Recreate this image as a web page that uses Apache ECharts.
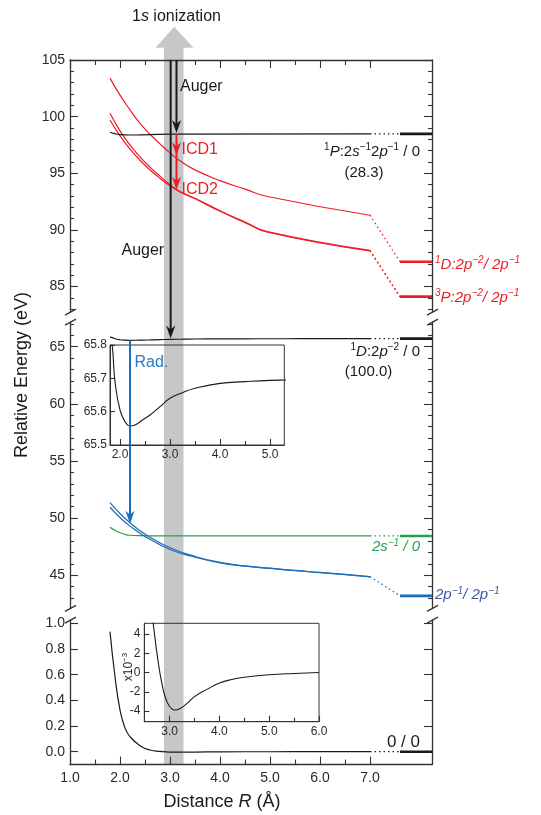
<!DOCTYPE html>
<html><head><meta charset="utf-8">
<script src="https://cdn.jsdelivr.net/npm/echarts@6.0.0/dist/echarts.min.js"></script>
<style>html,body{margin:0;padding:0;background:#fff;}#chart{width:541px;height:815px;}</style>
</head><body><div id="chart"></div>
<script>
// ---------------- data ----------------
const xTickLabels = [1, 2, 3, 4, 5, 6, 7];
const xMinorTicks = [1.5, 2.5, 3.5, 4.5, 5.5, 6.5];
const topYLabels = [85, 90, 95, 100, 105];
const topYMinor = [83,84,86,87,88,89,91,92,93,94,96,97,98,99,101,102,103,104];
const midYLabels = [45, 50, 55, 60, 65];
const midYMinor = [43,44,46,47,48,49,51,52,53,54,56,57,58,59,61,62,63,64,66,67];
const botYLabels = [0, 0.2, 0.4, 0.6, 0.8, 1.0];
const in1XLabels = [2, 3, 4, 5];
const in1XMinor = [2.5, 3.5, 4.5];
const in1YLabels = [65.5, 65.6, 65.7, 65.8];
const in2XLabels = [3, 4, 5, 6];
const in2XMinor = [3.5, 4.5, 5.5];
const in2YLabels = [-4, -2, 0, 2, 4];

const rCut = 7.0;    // end of computed curves
const rAsym = 7.6;   // start of asymptotic limits
const rMax = 8.24;   // right end of axis

// top panel (red dicationic states, 1P state)
const redR  = [1.8, 2.0, 2.2, 2.4, 2.6, 2.8, 3.0, 3.2, 3.5, 4.0, 4.5, 4.95, 7.0];
const redA  = [103.4, 101.9, 100.6, 99.4, 98.45, 97.6, 96.8, 96.1, 95.3, 94.35, 93.6, 92.95, 91.3];
const redB  = [100.3, 98.75, 97.5, 96.45, 95.55, 94.75, 94.0, 93.4, 92.8, 91.7, 90.7, 89.85, 88.2];
const redC  = [99.7, 98.3, 97.15, 96.15, 95.3, 94.55, 93.9, 93.35, 92.75, 91.65, 90.65, 89.8, 88.15];
const redAAsym = 87.2, redBAsym = 84.1;
const p1R = [1.8, 1.9, 2.0, 2.2, 2.6, 3.0, 7.0];
const p1E = [98.62, 98.5, 98.42, 98.38, 98.42, 98.45, 98.48];

// middle panel
const d1R = [1.8, 1.85, 1.9, 2.0, 2.1, 2.2, 2.3, 2.45, 2.6, 2.8, 3.0, 3.25, 3.5, 4.0, 4.5, 5.0, 5.3, 6.0, 7.0];
const d1E = [65.84, 65.79, 65.69, 65.605, 65.57, 65.557, 65.56, 65.575, 65.59, 65.615, 65.64, 65.657, 65.67, 65.685, 65.69, 65.694, 65.695, 65.697, 65.7];
const s2R = [1.8, 1.9, 2.0, 2.1, 2.2, 2.4, 2.7, 3.0, 7.0];
const s2E = [49.2, 48.93, 48.72, 48.58, 48.5, 48.46, 48.45, 48.44, 48.44];
const blueR = [1.8, 2.0, 2.2, 2.5, 3.0, 3.5, 4.0, 4.5, 5.0, 5.5, 6.0, 6.5, 7.0];
const blue1 = [51.35, 50.4, 49.6, 48.6, 47.4, 46.65, 46.12, 45.82, 45.62, 45.42, 45.25, 45.07, 44.88];
const blue2 = [50.95, 50.05, 49.3, 48.4, 47.25, 46.58, 46.09, 45.8, 45.6, 45.4, 45.23, 45.05, 44.86];
const blueAsym = 43.2;

// bottom panel (ground state)
const gsR = [1.8, 1.9, 2.0, 2.1, 2.2, 2.4, 2.6, 2.8, 3.0, 3.5, 4.0, 5.0, 6.0, 7.0];
const gsE = [0.935, 0.584, 0.325, 0.185, 0.117, 0.047, 0.013, 0.002, -0.003, -0.0025, -0.001, -0.0002, 0, 0];
const gsZoomR = [2.6, 2.67, 2.75, 2.85, 2.95, 3.05, 3.1, 3.2, 3.35, 3.5, 3.75, 4.0, 4.25, 4.5, 5.0, 5.5, 6.0];
const gsZoomE = [7.5, 5.0, 1.8, -1.3, -3.1, -3.8, -3.88, -3.75, -3.2, -2.5, -1.75, -1.1, -0.72, -0.5, -0.24, -0.1, 0.0];

// ---------------- style ----------------
const FONT = "'Liberation Sans', Arial, Helvetica, sans-serif";
const AX = '#333';
const RED = '#ee1d25', BLK = '#1a1a1a', GRN = '#23a24d', BLU = '#1b6dbd', LBLU = '#3f57a6';

const chart = echarts.init(document.getElementById('chart'));

const grids = [
  {left: 70, top: 60, width: 362, height: 252.1},
  {left: 70, top: 322.1, width: 362, height: 286.3},
  {left: 70, top: 620.1, width: 362, height: 144.45},
  {left: 110, top: 345, width: 174.3, height: 100, show: true, borderColor: AX, borderWidth: 1, backgroundColor: 'transparent'},
  {left: 144.3, top: 623.3, width: 174.7, height: 98.4, show: true, borderColor: AX, borderWidth: 1, backgroundColor: 'transparent'}
];

function ax(grid, min, max, pos, o) {
  return {
    type: 'value', gridIndex: grid, min: min, max: max, position: pos, show: true,
    splitLine: {show: false},
    axisLine: {show: !!o.line, onZero: false, lineStyle: {color: AX, width: o.lw || 1.3}},
    axisTick: {show: !!o.ticks, inside: true, length: o.len || 5, customValues: o.ticks, lineStyle: {color: AX, width: 1.1}},
    axisLabel: o.labels ? {show: true, customValues: o.labels, formatter: o.fmt, fontSize: o.fs || 14,
      color: '#2a2a2a', margin: o.margin || 5, fontFamily: FONT} : {show: false}
  };
}
const f1 = v => v.toFixed(1);
const f0 = v => String(Math.round(v));

const xAxis = [
  ax(0, 1, rMax, 'top', {line: true, ticks: xTickLabels, len: 8}),
  ax(0, 1, rMax, 'top', {ticks: xMinorTicks, len: 5}),
  ax(1, 1, rMax, 'bottom', {}),
  ax(2, 1, rMax, 'bottom', {line: true, ticks: xTickLabels, len: 8, labels: xTickLabels, fmt: f1, margin: 7}),
  ax(2, 1, rMax, 'bottom', {ticks: xMinorTicks, len: 5}),
  ax(3, 1.8, 5.285, 'bottom', {line: true, lw: 1, ticks: in1XLabels, len: 6, labels: in1XLabels, fmt: f1, fs: 12, margin: 4}),
  ax(3, 1.8, 5.285, 'bottom', {ticks: in1XMinor, len: 4}),
  ax(4, 2.49, 6.0, 'bottom', {line: true, lw: 1, ticks: in2XLabels, len: 6, labels: in2XLabels, fmt: f1, fs: 12, margin: 4}),
  ax(4, 2.49, 6.0, 'bottom', {ticks: in2XMinor, len: 4})
];
const yAxis = [
  ax(0, 82.75, 105, 'left', {line: true, ticks: topYLabels, len: 8, labels: topYLabels, fmt: f0}),
  ax(0, 82.75, 105, 'left', {ticks: topYMinor, len: 4}),
  ax(0, 82.75, 105, 'right', {line: true, ticks: topYLabels, len: 8}),
  ax(0, 82.75, 105, 'right', {ticks: topYMinor, len: 4}),
  ax(1, 42.1, 67.15, 'left', {line: true, ticks: midYLabels, len: 8, labels: midYLabels, fmt: f0}),
  ax(1, 42.1, 67.15, 'left', {ticks: midYMinor, len: 4}),
  ax(1, 42.1, 67.15, 'right', {line: true, ticks: midYLabels, len: 8}),
  ax(1, 42.1, 67.15, 'right', {ticks: midYMinor, len: 4}),
  ax(2, -0.1, 1.025, 'left', {line: true, ticks: botYLabels, len: 8, labels: botYLabels, fmt: f1}),
  ax(2, -0.1, 1.025, 'right', {line: true, ticks: botYLabels, len: 8}),
  ax(3, 65.5, 65.8, 'left', {line: true, lw: 1, ticks: in1YLabels, len: 5, labels: in1YLabels, fmt: f1, fs: 12, margin: 3}),
  ax(4, -5.1, 5.1, 'left', {line: true, lw: 1, ticks: in2YLabels, len: 5, labels: in2YLabels, fmt: f0, fs: 12, margin: 4})
];

const pts = (xs, ys) => xs.map((x, i) => [x, ys[i]]);
function curve(xs, ys, xi, yi, color, w) {
  return {type: 'line', xAxisIndex: xi, yAxisIndex: yi, data: pts(xs, ys), symbol: 'none', showSymbol: false,
    smooth: 0.5, lineStyle: {color: color, width: w || 1.2}, silent: true, z: 3};
}
function tail(ys, asym, xi, yi, color) {
  const last = ys[ys.length - 1];
  return [
    {type: 'line', xAxisIndex: xi, yAxisIndex: yi, data: [[rCut, last], [rAsym, asym]], symbol: 'none',
      lineStyle: {color: color, width: 1.3, type: [1.5, 3]}, silent: true, z: 3},
    {type: 'line', xAxisIndex: xi, yAxisIndex: yi, data: [[rAsym, asym], [rMax, asym]], symbol: 'none',
      lineStyle: {color: color, width: 2.6}, silent: true, z: 3}
  ];
}

const series = [
  curve(redR, redA, 0, 0, RED), curve(redR, redB, 0, 0, RED), curve(redR, redC, 0, 0, RED),
  curve(p1R, p1E, 0, 0, BLK),
  ...tail(redA, redAAsym, 0, 0, RED), ...tail(redB, redBAsym, 0, 0, RED), ...tail(redC, redBAsym, 0, 0, RED),
  ...tail(p1E, p1E[p1E.length - 1], 0, 0, BLK),
  curve(d1R, d1E, 2, 4, BLK), curve(s2R, s2E, 2, 4, GRN),
  curve(blueR, blue1, 2, 4, BLU), curve(blueR, blue2, 2, 4, BLU),
  ...tail(d1E, d1E[d1E.length - 1], 2, 4, BLK), ...tail(s2E, s2E[s2E.length - 1], 2, 4, GRN),
  ...tail(blue1, blueAsym, 2, 4, BLU),
  curve(gsR, gsE, 3, 8, BLK), ...tail(gsE, 0, 3, 8, BLK),
  curve(d1R, d1E, 5, 10, BLK, 1.1),
  curve(gsZoomR, gsZoomE, 7, 11, BLK, 1.1)
];

chart.setOption({animation: false, textStyle: {fontFamily: FONT}, grid: grids, xAxis: xAxis, yAxis: yAxis, series: series});

// ---------------- annotations ----------------
const P = (g, x, y) => chart.convertToPixel({gridIndex: g}, [x, y]);
const gfx = [];

// 1s ionization band (data coords: R in Å, energy in top-panel units)
const band = {x0: 2.88, x1: 3.27, hx0: 2.71, hx1: 3.47, tipX: 3.085, tipE: 107.94, baseE: 106.09};
{
  const tip = P(0, band.tipX, band.tipE), hr = P(0, band.hx1, band.baseE), brt = P(0, band.x1, band.baseE),
        brb = P(2, band.x1, -0.1), blb = P(2, band.x0, -0.1), blt = P(0, band.x0, band.baseE), hl = P(0, band.hx0, band.baseE);
  gfx.push({type: 'polygon', shape: {points: [tip, hr, brt, brb, blb, blt, hl]}, style: {fill: '#c6c7c9'}, z: -1, silent: true});
}

function head(x, y, color) {
  gfx.push({type: 'polygon', shape: {points: [[x, y], [x - 4.6, y - 13], [x, y - 9], [x + 4.6, y - 13]]},
    style: {fill: color}, z: 20, silent: true});
}
function vline(x, y0, y1, color, w) {
  gfx.push({type: 'line', shape: {x1: x, y1: y0, x2: x, y2: y1}, style: {stroke: color, lineWidth: w}, z: 19, silent: true});
}
// Auger (long): top frame -> 1D state
{
  const a = P(0, 3.013, 105), b = P(1, 3.013, 65.72);
  vline(a[0], a[1], b[1] - 8, BLK, 2); head(a[0], b[1], BLK);
}
// Auger (short): top frame -> 1P state
{
  const a = P(0, 3.13, 105), b = P(0, 3.13, 98.55);
  vline(a[0], a[1], b[1] - 8, BLK, 2); head(a[0], b[1], BLK);
}
// ICD1 / ICD2
{
  const a = P(0, 3.13, 98.45), b = P(0, 3.13, 96.6), c = P(0, 3.13, 93.55);
  vline(a[0], a[1], c[1] - 8, RED, 2); head(a[0], b[1], RED); head(a[0], c[1], RED);
}
// Radiative
{
  const a = P(1, 2.2, 65.56), b = P(1, 2.2, 49.5);
  vline(a[0], a[1], b[1] - 8, BLU, 2); head(a[0], b[1], BLU);
}

function rich(color, size, allItalic) {
  const st = allItalic ? 'italic' : 'normal';
  return {
    n: {fill: color, color: color, fontSize: size, fontFamily: FONT, fontStyle: st, lineHeight: size + 4},
    i: {fill: color, color: color, fontSize: size, fontFamily: FONT, fontStyle: 'italic', lineHeight: size + 4},
    s: {fill: color, color: color, fontSize: Math.round(size * 0.68), fontFamily: FONT, fontStyle: st,
        lineHeight: Math.round(size * 0.68) + 1, verticalAlign: 'top'}
  };
}
function text(pt, str, color, size, align, italic, rot) {
  const el = {type: 'text', x: pt[0], y: pt[1], z: 30, silent: true,
    style: {text: str, fill: color, fontSize: size, fontFamily: FONT, align: align, textAlign: align,
      verticalAlign: 'middle', textVerticalAlign: 'middle', rich: rich(color, size, italic)}};
  if (rot) el.rotation = rot;
  gfx.push(el);
}

text(P(0, 3.13, 108.82), '{n|1}{i|s}{n| ionization}', BLK, 16, 'center');
text(P(0, 3.2, 102.62), '{n|Auger}', BLK, 16, 'left');
text(P(0, 2.03, 88.17), '{n|Auger}', BLK, 16, 'left');
text(P(0, 3.23, 97.06), '{n|ICD1}', RED, 16, 'left');
text(P(0, 3.23, 93.59), '{n|ICD2}', RED, 16, 'left');
text(P(1, 2.29, 63.63), '{n|Rad.}', '#2a7bc0', 16, 'left');

text(P(0, 8.0, 96.9), '{s|1}{i|P}{n|:2}{i|s}{s|−1}{n|2}{i|p}{s|−1}{n| / 0}', BLK, 15, 'right');
text(P(0, 6.88, 95.0), '{n|(28.3)}', BLK, 15, 'center');
text(P(0, 8.3, 86.95), '{s|1}{i|D}{n|:2}{i|p}{s|−2}{n|/ 2}{i|p}{s|−1}', RED, 15, 'left', true);
text(P(0, 8.3, 84.0), '{s|3}{i|P}{n|:2}{i|p}{s|−2}{n|/ 2}{i|p}{s|−1}', RED, 15, 'left', true);
text(P(1, 8.0, 64.56), '{s|1}{i|D}{n|:2}{i|p}{s|−2}{n| / 0}', BLK, 15, 'right');
text(P(1, 6.97, 62.81), '{n|(100.0)}', BLK, 15, 'center');
text(P(1, 8.0, 47.45), '{n|2}{i|s}{s|−1}{n| / 0}', GRN, 15, 'right', true);
text(P(1, 8.3, 43.25), '{n|2}{i|p}{s|−1}{n|/ 2}{i|p}{s|−1}', LBLU, 15, 'left', true);
text(P(2, 8.0, 0.07), '{n|0 / 0}', BLK, 17, 'right');

// axis titles
text([22, 375], '{n|Relative Energy (eV)}', BLK, 18, 'center', false, Math.PI / 2);
text([222, 802], '{n|Distance }{i|R}{n| (Å)}', BLK, 18, 'center');
text([129, 667], '{n|x10}{s|−3}', BLK, 12, 'center', false, Math.PI / 2);

// axis break marks
function brk(x, y) {
  gfx.push({type: 'line', shape: {x1: x - 5, y1: y + 3, x2: x + 6, y2: y - 3}, style: {stroke: AX, lineWidth: 1.3}, z: 25, silent: true});
}
[[0, 82.75], [1, 67.15], [1, 42.1], [2, 1.025]].forEach(([g, e]) => {
  const l = P(g, 1, e), r = P(g, rMax, e);
  brk(l[0], l[1]); brk(r[0], r[1]);
});

chart.setOption({graphic: {elements: gfx}});
</script>
</body></html>
